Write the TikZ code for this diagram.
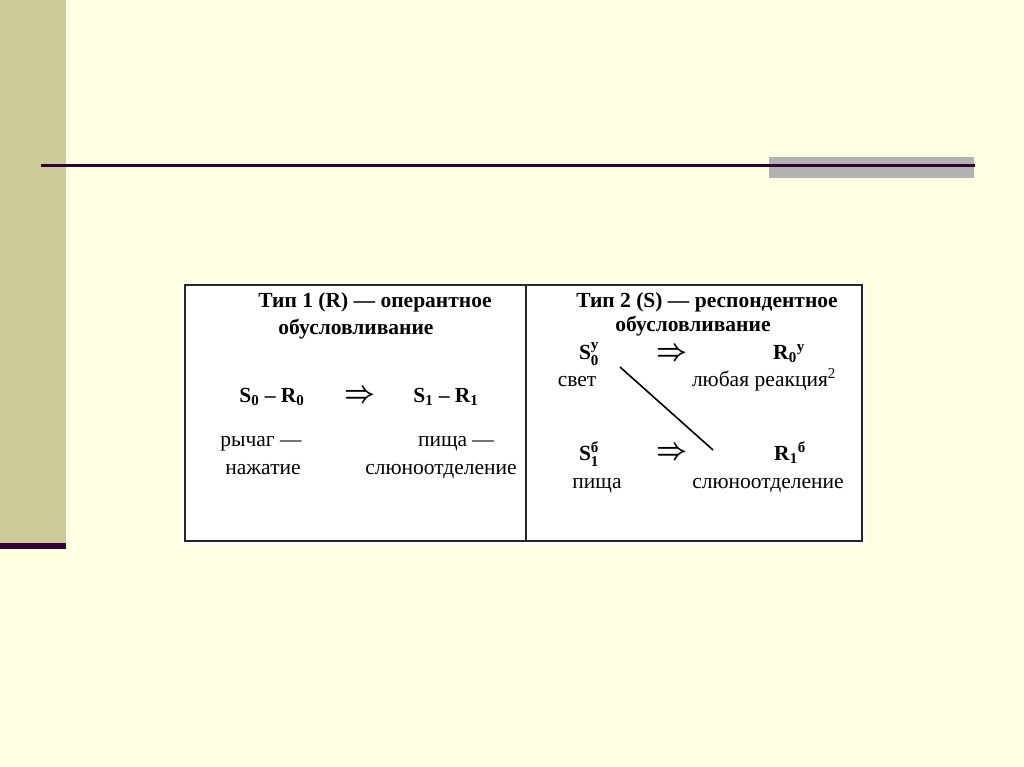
\documentclass[tikz,border=0pt]{standalone}
\usepackage{amsmath}
\usepackage{graphicx}
\usepackage{fontspec}
\setmainfont{Liberation Serif}
\definecolor{bgc}{RGB}{255,255,225}
\definecolor{barc}{RGB}{204,204,153}
\definecolor{linec}{RGB}{51,0,51}
\definecolor{grayc}{RGB}{178,178,178}
\newcommand{\bigarr}{\resizebox{31pt}{12pt}{\boldmath$\Rightarrow$}}
\tikzset{
  txt/.style={inner sep=0pt, font=\fontsize{21.5}{24}\selectfont, text height=14pt, text depth=5pt},
  btxt/.style={txt, font=\fontsize{21.5}{24}\selectfont\bfseries},
  arr/.style={inner sep=0pt},
}
\begin{document}
\begin{tikzpicture}[x=1pt,y=-1pt]
\useasboundingbox (0,0) rectangle (1024,767);
\fill[bgc] (0,0) rectangle (1024,767);
% left bar
\fill[barc] (0,0) rectangle (66,545);
\fill[linec] (0,543) rectangle (66,549);
% gray rect and rule
\fill[grayc] (769,157) rectangle (974,178);
\coordinate (ruleL) at (41,165.5);
\coordinate (ruleR) at (975,165.5);
\draw[linec, line width=2.2pt] (ruleL) -- (ruleR);
% table
\fill[white] (181,283) rectangle (866,545);
\draw[line width=1.8pt, black!85] (185,285) rectangle (862,541);
\draw[line width=1.8pt, black!85] (526,285) -- (526,541);
% left panel
\node[btxt] (h1) at (375,303) {Тип 1 (R) — оперантное};
\node[btxt] (h1b) at (356,330) {обусловливание};
\node[btxt] (ls0r0) at (272,398) {S\textsubscript{0} – R\textsubscript{0}};
\node[arr] (larr) at (360,396) {\bigarr};
\node[btxt] (ls1r1) at (446,398) {S\textsubscript{1} – R\textsubscript{1}};
\node[txt] (llever) at (261,442) {рычаг —};
\node[txt] (lpress) at (263,470) {нажатие};
\node[txt] (lfood) at (456,442) {пища —};
\node[txt] (lsaliv) at (441,470) {слюноотделение};
% right panel
\node[btxt] (h2) at (707,303) {Тип 2 (S) — респондентное};
\node[btxt] (h2b) at (693,327) {обусловливание};
\node[btxt] (rs0) at (589,355) {S$^{\textbf{у}}_{\textbf{0}}$};
\node[arr] (rarr1) at (672,354) {\bigarr};
\node[btxt] (rr0) at (789,355) {R\textsubscript{0}\textsuperscript{у}};
\node[txt] (rlight) at (577,382) {свет};
\node[txt] (rany) at (764,382) {любая реакция\textsuperscript{2}};
\node[btxt] (rs1) at (589,456) {S$^{\textbf{б}}_{\textbf{1}}$};
\node[arr] (rarr2) at (672,453) {\bigarr};
\node[btxt] (rr1) at (790,456) {R\textsubscript{1}\textsuperscript{б}};
\node[txt] (rfood) at (597,484) {пища};
\node[txt] (rsaliv) at (768,484) {слюноотделение};
\coordinate (d1) at (620,367);
\coordinate (d2) at (713,450);
\draw[line width=1.6pt] (d1) -- (d2);
\end{tikzpicture}
\end{document}
